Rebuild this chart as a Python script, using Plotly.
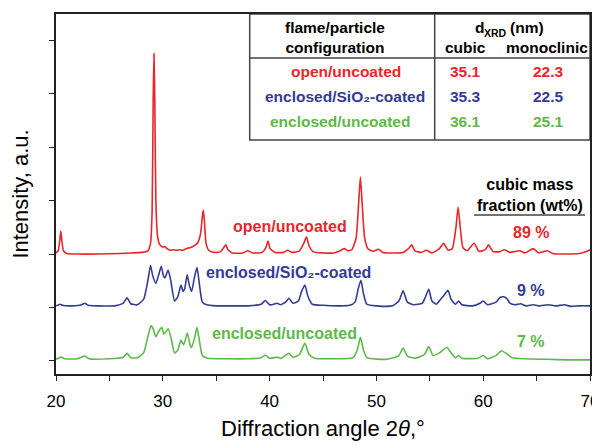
import plotly.graph_objects as go

# ---------------- data ----------------
red_x = [20.0, 20.2, 20.35, 20.45, 20.55, 20.7, 21.0, 22.0, 24.0, 26.0, 27.0, 28.0, 28.6, 28.85, 29.0, 29.1,
         29.17, 29.25, 29.35, 29.5, 29.7, 30.0, 30.2, 30.4, 30.7, 31.0, 31.3, 31.6, 31.9, 32.2, 32.6, 33.0,
         33.3, 33.55, 33.7, 33.8, 33.9, 34.05, 34.3, 34.8, 35.4, 35.7, 35.9, 36.1, 36.5, 37.5, 37.95, 38.4,
         39.3, 39.65, 39.85, 40.05, 40.5, 41.3, 41.7, 42.1, 42.8, 43.2, 43.45, 43.7, 44.1, 45.0, 46.0, 46.6,
         47.0, 47.3, 47.7, 48.1, 48.35, 48.5, 48.65, 48.9, 49.2, 49.7, 50.2, 50.6, 51.5, 52.5, 53.0, 53.3,
         53.6, 54.2, 54.7, 55.2, 55.9, 56.3, 56.7, 57.1, 57.45, 57.65, 57.85, 58.1, 58.5, 59.15, 59.6, 60.2,
         60.5, 60.9, 61.5, 62.0, 62.5, 63.4, 63.9, 64.7, 65.2, 66.0, 66.5, 68.0, 69.0, 69.6, 70.0]
red_y = [2.02, 2.06, 2.25, 2.43, 2.25, 2.06, 2.01, 2.0, 2.0, 2.01, 2.02, 2.03, 2.06, 2.2, 2.8, 4.9,
         5.75, 4.9, 3.0, 2.35, 2.18, 2.13, 2.14, 2.1, 2.07, 2.08, 2.07, 2.08, 2.07, 2.1, 2.12, 2.16,
         2.22, 2.4, 2.7, 2.82, 2.6, 2.2, 2.07, 2.03, 2.04, 2.12, 2.17, 2.08, 2.02, 2.02, 2.06, 2.02,
         2.03, 2.12, 2.24, 2.1, 2.03, 2.03, 2.07, 2.03, 2.06, 2.2, 2.32, 2.15, 2.04, 2.02, 2.02, 2.06,
         2.1, 2.06, 2.08, 2.3, 3.0, 3.44, 3.0, 2.3, 2.1, 2.05, 2.09, 2.03, 2.02, 2.03, 2.1, 2.17,
         2.06, 2.03, 2.07, 2.02, 2.1, 2.2, 2.07, 2.1, 2.5, 2.88, 2.5, 2.12, 2.06, 2.2, 2.05, 2.08,
         2.17, 2.05, 2.04, 2.08, 2.03, 2.06, 2.02, 2.1, 2.02, 2.06, 2.01, 2.0, 2.01, 2.04, 2.08]

blue_x = [20.0, 20.4, 20.6, 21.5, 22.4, 22.7, 23.0, 24.0, 25.5, 26.3, 26.65, 27.0, 27.6, 28.2, 28.6, 28.85,
          29.05, 29.35, 29.6, 29.85, 30.05, 30.2, 30.5, 30.75, 31.1, 31.4, 31.7, 31.9, 32.05, 32.28, 32.5,
          32.7, 32.95, 33.2, 33.45, 33.7, 34.1, 35.0, 36.5, 38.0, 39.2, 39.6, 40.0, 40.4, 40.7, 41.0, 41.5,
          41.8, 42.2, 42.7, 43.0, 43.3, 43.6, 44.0, 45.0, 46.5, 47.5, 48.0, 48.3, 48.55, 48.8, 49.1, 50.0,
          51.5, 52.1, 52.5, 52.9, 53.5, 54.3, 54.6, 54.9, 55.2, 55.6, 56.0, 56.3, 56.7, 57.0, 57.4, 57.7,
          58.0, 59.0, 59.7, 60.0, 60.4, 61.2, 61.6, 61.9, 62.2, 62.5, 63.0, 63.5, 64.0, 64.7, 65.2, 66.1,
          66.8, 67.6, 68.2, 69.0, 70.0]
blue_y = [1.03, 1.06, 1.04, 1.03, 1.05, 1.08, 1.04, 1.03, 1.03, 1.08, 1.18, 1.07, 1.05, 1.15, 1.5, 1.79,
          1.6, 1.45, 1.6, 1.77, 1.6, 1.55, 1.7, 1.5, 1.12, 1.2, 1.42, 1.3, 1.35, 1.61, 1.4,
          1.3, 1.55, 1.75, 1.4, 1.1, 1.05, 1.03, 1.03, 1.03, 1.06, 1.13, 1.05, 1.06, 1.08, 1.05, 1.1,
          1.17, 1.08, 1.12, 1.3, 1.42, 1.2, 1.06, 1.04, 1.03, 1.04, 1.1, 1.35, 1.51, 1.25, 1.06, 1.03,
          1.03, 1.12, 1.31, 1.1, 1.05, 1.08, 1.2, 1.34, 1.12, 1.06, 1.15, 1.22, 1.32, 1.15, 1.06, 1.12,
          1.05, 1.03, 1.08, 1.12, 1.05, 1.1, 1.19, 1.2, 1.17, 1.08, 1.05, 1.07, 1.03, 1.05, 1.03, 1.05,
          1.03, 1.05, 1.02, 1.03, 1.03]

green_x = [20.0, 20.5, 20.8, 22.0, 22.7, 23.1, 25.0, 26.3, 26.65, 27.0, 27.6, 28.2, 28.6, 28.9, 29.1, 29.35,
           29.6, 29.9, 30.1, 30.5, 30.8, 31.1, 31.4, 31.7, 31.95, 32.3, 32.55, 32.7, 33.0, 33.2, 33.45,
           33.7, 34.2, 36.0, 38.0, 39.2, 39.6, 40.0, 40.7, 41.1, 41.8, 42.2, 42.8, 43.3, 43.7, 44.2, 46.0,
           47.8, 48.2, 48.5, 48.8, 49.1, 51.0, 52.1, 52.5, 52.9, 53.6, 54.5, 54.9, 55.3, 55.9, 56.6, 57.0,
           57.4, 57.7, 58.0, 59.5, 60.0, 60.4, 61.2, 61.7, 62.3, 62.7, 64.0, 66.0, 68.0, 70.0]
green_y = [0.03, 0.07, 0.04, 0.04, 0.09, 0.04, 0.04, 0.07, 0.14, 0.06, 0.06, 0.15, 0.45, 0.66, 0.6, 0.45,
           0.55, 0.63, 0.5, 0.6, 0.4, 0.15, 0.2, 0.39, 0.3, 0.52, 0.3, 0.25, 0.45, 0.63, 0.35,
           0.1, 0.05, 0.04, 0.04, 0.06, 0.11, 0.05, 0.07, 0.05, 0.14, 0.07, 0.12, 0.33, 0.12, 0.05, 0.04,
           0.06, 0.2, 0.44, 0.2, 0.06, 0.03, 0.1, 0.24, 0.09, 0.05, 0.12, 0.27, 0.1, 0.15, 0.25, 0.15,
           0.06, 0.1, 0.05, 0.05, 0.1, 0.04, 0.1, 0.19, 0.12, 0.06, 0.04, 0.03, 0.02, 0.02]

series_names = ["open/uncoated", "enclosed/SiO₂-coated", "enclosed/uncoated"]
d_cubic = ["35.1", "35.3", "36.1"]
d_mono = ["22.3", "22.5", "25.1"]
cubic_fraction = ["89 %", "9 %", "7 %"]
x_tickvals = [20, 30, 40, 50, 60, 70]
y_tickvals = [0, 1, 2, 3, 4, 5, 6]

# ---------------- styling ----------------
RED = "#e8262b"
BLUE = "#343b94"
GREEN = "#5fb84a"
colors = [RED, BLUE, GREEN]
FONT = "Arial, Liberation Sans, sans-serif"

W, H = 600, 445
L, R, T, B = 48, 18, 6, 79
PW, PH = W - L - R, H - T - B


def px(xp):
    return (xp - L) / PW


def py(yp):
    return (H - B - yp) / PH


fig = go.Figure()
for xs, ys, c, n in [(red_x, red_y, RED, series_names[0]),
                     (blue_x, blue_y, BLUE, series_names[1]),
                     (green_x, green_y, GREEN, series_names[2])]:
    fig.add_trace(go.Scatter(x=xs, y=ys, mode="lines",
                             line=dict(color=c, width=1.6, shape="spline", smoothing=0.5),
                             name=n, showlegend=False, hoverinfo="skip"))

ann = []
# table header
ann.append(dict(x=px(327), y=py(29.5), text="<b>flame/particle<br>configuration</b>", font=dict(size=15.5, color="black")))
ann.append(dict(x=px(471), y=py(20), text="<b>d</b>", font=dict(size=15.5, color="black")))
ann.append(dict(x=px(487), y=py(25), text="<b>XRD</b>", font=dict(size=10.5, color="black")))
ann.append(dict(x=px(519), y=py(20), text="<b>(nm)</b>", font=dict(size=15.5, color="black")))
ann.append(dict(x=px(457), y=py(39), text="<b>cubic</b>", font=dict(size=15.5, color="black")))
ann.append(dict(x=px(539), y=py(39), text="<b>monoclinic</b>", font=dict(size=15.5, color="black")))
row_y = [63, 89, 113]
row_cx = [338, 337, 332]
for i in range(3):
    ann.append(dict(x=px(row_cx[i]), y=py(row_y[i]), text="<b>" + series_names[i] + "</b>",
                    font=dict(size=15.5, color=colors[i])))
    ann.append(dict(x=px(457), y=py(row_y[i]), text="<b>" + d_cubic[i] + "</b>", font=dict(size=15.5, color=colors[i])))
    ann.append(dict(x=px(540), y=py(row_y[i]), text="<b>" + d_mono[i] + "</b>", font=dict(size=15.5, color=colors[i])))

# cubic mass fraction column
ann.append(dict(x=px(522), y=py(187), text="<b>cubic mass<br>fraction (wt%)</b>", font=dict(size=16, color="black")))
frac_y = [224, 282, 333]
for i in range(3):
    ann.append(dict(x=px(523), y=py(frac_y[i]), text="<b>" + cubic_fraction[i] + "</b>", font=dict(size=16, color=colors[i])))

# curve labels
lab_pos = [(282, 218), (280, 264), (276, 325)]
for i in range(3):
    ann.append(dict(x=px(lab_pos[i][0]), y=py(lab_pos[i][1]), text="<b>" + series_names[i] + "</b>",
                    font=dict(size=16, color=colors[i])))

for a in ann:
    a.update(xref="paper", yref="paper", showarrow=False, xanchor="center", yanchor="middle")
    a["font"]["family"] = FONT

shapes = []
tb = dict(color="#444444", width=1.5)
# table box
shapes.append(dict(type="rect", xref="paper", yref="paper", x0=px(241.7), x1=1.0, y0=py(132), y1=1.0,
                   line=tb, fillcolor="white", layer="below"))
shapes.append(dict(type="line", xref="paper", yref="paper", x0=px(241.7), x1=1.0, y0=py(50), y1=py(50), line=tb))
shapes.append(dict(type="line", xref="paper", yref="paper", x0=px(426.7), x1=px(426.7), y0=py(132), y1=1.0, line=tb))
# underline of cubic mass fraction
shapes.append(dict(type="line", xref="paper", yref="paper", x0=px(466), x1=px(577), y0=py(207), y1=py(207),
                   line=dict(color="#444444", width=1.5)))

fig.update_layout(
    width=W, height=H,
    margin=dict(l=L, r=R, t=T, b=B, autoexpand=False),
    paper_bgcolor="white", plot_bgcolor="white",
    font=dict(family=FONT, color="black"),
    annotations=ann, shapes=shapes, showlegend=False,
    xaxis=dict(range=[20, 70], tickvals=x_tickvals, ticks="outside", ticklen=5,
               tickwidth=1.2, tickcolor="#222222", showline=True, linecolor="#222222", linewidth=1.8, mirror=True,
               minor=dict(dtick=5, tick0=20, ticks="outside", ticklen=5, tickwidth=1.2, tickcolor="#222222"),
               showgrid=False, zeroline=False, tickfont=dict(size=17, color="black"), ticklabelstandoff=6,
               title=dict(text="Diffraction angle 2<i>θ</i>,°", font=dict(size=22, color="black"), standoff=10)),
    yaxis=dict(range=[-0.245, 6.49], tickvals=y_tickvals, showticklabels=False, ticks="outside", ticklen=5,
               tickwidth=1.2, tickcolor="#222222", showline=True, linecolor="#222222", linewidth=1.8, mirror=True,
               showgrid=False, zeroline=False,
               title=dict(text="Intensity, a.u.", font=dict(size=22, color="black"), standoff=14)),
)

fig.write_html("out.html")
